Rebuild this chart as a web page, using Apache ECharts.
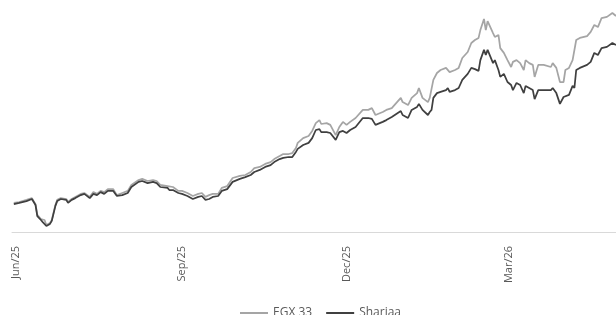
<!DOCTYPE html>
<html>
<head>
<meta charset="utf-8">
<title>EGX 33 vs Shariaa</title>
<script src="https://cdn.jsdelivr.net/npm/echarts@6/dist/echarts.min.js"></script>
<style>
  html, body { margin: 0; padding: 0; background: #fff; }
  #chart { width: 616px; height: 315px; }
</style>
</head>
<body>
<div id="chart"></div>
<script>
// days counted from 1 Jun 2025
var days = [-1, 2, 6, 9, 11, 12, 14, 15, 16, 17, 19, 20, 22, 23, 25, 26, 28, 29, 31, 33,
  36, 38, 41, 43, 45, 47, 49, 51, 54, 56, 59, 62, 64, 68, 70, 73, 76, 78, 80, 84,
  85, 87, 90, 92, 95, 98, 99, 101, 103, 105, 107, 109, 112, 114, 117, 120, 124, 127, 130, 132,
  135, 138, 141, 143, 146, 148, 151, 153, 155, 156, 159, 162, 164, 166, 168, 169, 172, 174, 177, 179,
  181, 183, 185, 188, 192, 195, 197, 199, 203, 205, 208, 213, 214, 217, 219, 222, 223, 225, 228, 229,
  230, 231, 233, 235, 238, 239, 240, 243, 245, 247, 250, 252, 254, 256, 257, 259, 260, 261, 264, 265,
  267, 268, 270, 272, 274, 275, 277, 279, 281, 282, 284, 286, 287, 289, 292, 296, 297, 299, 301, 303,
  304, 306, 308, 309, 310, 312, 316, 318, 320, 322, 324, 327, 330, 332];

var egx33 = [99.7, 100.0, 100.7, 101.3, 99.3, 95.7, 94.3, 93.7, 94.0, 92.3, 93.0, 94.0, 99.0, 100.7, 101.3, 101.7, 101.0, 100.0, 101.0, 101.7,
  102.7, 103.0, 101.7, 103.3, 102.7, 103.7, 103.3, 104.3, 104.3, 102.3, 103.0, 103.7, 105.7, 107.3, 107.7, 107.0, 107.3, 107.0, 105.7, 105.3,
  104.7, 105.0, 103.7, 103.7, 103.0, 102.0, 101.7, 102.7, 103.0, 101.7, 102.3, 102.7, 102.7, 104.7, 105.3, 108.0, 108.7, 109.0, 110.0, 111.3,
  111.7, 112.7, 113.3, 114.3, 115.3, 116.0, 116.0, 116.3, 118.0, 119.7, 121.3, 122.0, 123.7, 126.3, 127.3, 126.0, 126.3, 125.7, 122.3, 125.0,
  126.7, 125.7, 126.7, 128.0, 130.7, 130.7, 131.3, 129.0, 130.0, 130.7, 131.3, 134.7, 133.3, 132.3, 134.7, 136.3, 138.0, 134.7, 133.3, 134.7,
  134.7, 140.7, 143.0, 144.0, 144.7, 145.3, 143.3, 144.0, 144.7, 148.0, 150.0, 153.0, 154.0, 154.7, 157.3, 161.0, 157.3, 160.3, 156.3, 155.0,
  155.7, 151.3, 149.7, 147.3, 145.0, 146.7, 147.3, 146.3, 144.0, 147.3, 146.3, 145.7, 141.7, 145.7, 145.7, 145.0, 146.3, 144.7, 140.0, 140.0,
  144.0, 144.7, 147.3, 146.7, 154.0, 154.7, 155.3, 156.7, 159.0, 158.3, 161.3, 161.7, 163.0, 162.0];

var shariaa = [99.3, 99.7, 100.3, 101.0, 99.0, 95.3, 94.0, 93.3, 93.7, 92.0, 92.7, 93.7, 98.7, 100.3, 101.0, 101.3, 100.7, 99.7, 100.7, 101.3,
  102.3, 102.7, 101.3, 102.7, 102.3, 103.3, 102.7, 103.7, 103.7, 102.0, 102.3, 103.0, 105.0, 106.7, 107.0, 106.3, 106.7, 106.3, 105.0, 104.7,
  104.0, 104.0, 103.0, 102.7, 102.0, 101.0, 100.7, 101.7, 102.0, 100.7, 101.0, 101.7, 102.0, 103.7, 104.3, 106.7, 107.7, 108.3, 109.0, 110.0,
  110.7, 111.7, 112.3, 113.3, 114.3, 114.7, 115.0, 115.0, 116.7, 117.7, 119.0, 119.7, 121.3, 124.0, 124.3, 123.3, 123.3, 123.0, 120.7, 123.3,
  123.7, 123.0, 124.0, 125.0, 128.0, 128.0, 127.7, 125.7, 126.7, 127.3, 128.3, 130.3, 129.0, 128.0, 130.7, 131.7, 132.7, 130.7, 129.0, 130.0,
  130.7, 134.7, 136.3, 136.7, 137.3, 138.0, 136.7, 137.3, 138.0, 140.7, 142.7, 144.7, 144.3, 143.7, 147.3, 150.7, 149.0, 150.7, 146.3, 147.3,
  144.0, 141.7, 142.7, 140.0, 139.0, 137.3, 139.7, 139.0, 136.3, 138.7, 138.0, 137.3, 134.3, 137.3, 137.3, 137.3, 138.0, 136.3, 132.7, 135.0,
  135.3, 135.7, 138.7, 138.0, 144.0, 144.7, 145.7, 146.7, 149.7, 149.0, 151.3, 151.7, 153.0, 152.3];

var tickDays = [0, 92, 183, 273];
var tickLabels = ['Jun/25', 'Sep/25', 'Dec/25', 'Mar/26'];

function pairs(xs, ys) {
  return xs.map(function (d, i) { return [d, ys[i]]; });
}

var chart = echarts.init(document.getElementById('chart'));

var option = {
  animation: false,
  grid: {
    left: 12,
    right: 0,
    top: 1,
    bottom: 83
  },
  legend: {
    left: 240,
    top: 307,
    padding: 0,
    icon: 'rect',
    itemWidth: 28,
    itemHeight: 2,
    itemGap: 14,
    textStyle: { color: '#595959', fontSize: 12, fontFamily: 'Open Sans' },
    data: ['EGX 33', 'Shariaa']
  },
  xAxis: {
    type: 'value',
    min: -2,
    max: 332,
    splitLine: { show: false },
    axisTick: { show: false },
    axisLine: { lineStyle: { color: '#D9D9D9', width: 1 } },
    axisLabel: {
      customValues: tickDays,
      rotate: 90,
      margin: 14,
      color: '#595959',
      fontSize: 11,
      fontFamily: 'Open Sans',
      formatter: function (v) {
        var i = tickDays.indexOf(v);
        return i >= 0 ? tickLabels[i] : '';
      }
    }
  },
  yAxis: {
    type: 'value',
    min: 90,
    max: 167,
    show: false,
    splitLine: { show: false }
  },
  series: [
    {
      name: 'EGX 33',
      type: 'line',
      symbol: 'none',
      data: pairs(days, egx33),
      lineStyle: { color: '#A5A5A5', width: 1.75 },
      itemStyle: { color: '#A5A5A5' }
    },
    {
      name: 'Shariaa',
      type: 'line',
      symbol: 'none',
      data: pairs(days, shariaa),
      lineStyle: { color: '#404040', width: 1.75 },
      itemStyle: { color: '#404040' }
    }
  ]
};

chart.setOption(option);
window.addEventListener('resize', function () { chart.resize(); });
</script>
</body>
</html>
